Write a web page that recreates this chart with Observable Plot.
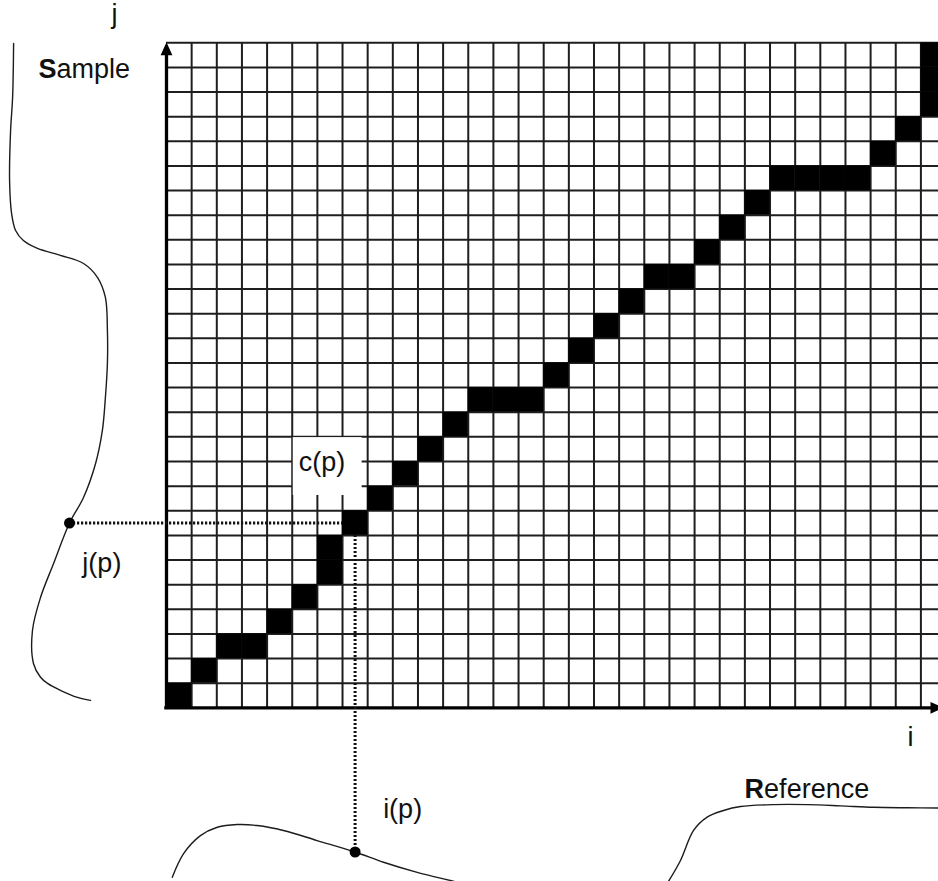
<!DOCTYPE html>
<html><head><meta charset="utf-8">
<script src="https://cdn.jsdelivr.net/npm/d3@7"></script>
<script src="https://cdn.jsdelivr.net/npm/@observablehq/plot@0.6"></script>
<style>html,body{margin:0;padding:0;overflow:hidden;background:#fff}</style>
</head><body>
<script>
// ---- grid (cells of the cost matrix) ----
const columns = 31;   // i = 0..30 (last column cut by the frame)
const rows = 27;      // j = 0..26

// ---- warping path cells ----
const pathI = [0,1,2,3,4,5,6,6,7,8,9,10,11,12,13,14,15,16,17,18,19,20,21,22,23,24,25,26,27,28,29,30,30,30];
const pathJ = [0,1,2,2,3,4,5,6,7,8,9,10,11,12,12,12,13,14,15,16,17,17,18,19,20,21,21,21,21,22,23,24,25,26];

// ---- Sample signal (drawn along j, value to the left of the grid) ----
const sampleJ     = [26.97,24.78,23.44,21.41,20.07,19.38,18.97,18.65,18.37,18.04,17.47,16.66,15.32,13.98,12.60,11.26,9.92,8.54,7.5,5.86,4.48,3.14,1.80,1.24,0.99,0.71,0.42,0.30];
const sampleValue = [-6.08,-6.12,-6.20,-6.24,-6.16,-6.00,-5.69,-5.13,-4.22,-3.30,-2.74,-2.43,-2.35,-2.35,-2.43,-2.55,-2.82,-3.30,-3.857,-4.49,-5.01,-5.33,-5.29,-5.01,-4.73,-4.22,-3.54,-3.02];

// ---- Reference signal (drawn along i, value below the grid) ----
const refI     = [0.23,0.68,1.35,2.02,2.81,3.61,4.65,5.99,7.5,8.63,9.97,11.29,11.77,  19.96,20.44,20.96,21.50,22.15,22.83,24.14,25.48,26.80,28.12,29.46,30.78];
const refValue = [-6.88,-5.92,-5.19,-4.85,-4.74,-4.78,-4.98,-5.39,-5.855,-6.27,-6.68,-7.01,-7.13, -7.05,-6.20,-4.98,-4.44,-4.17,-4.01,-3.93,-3.93,-3.98,-4.04,-4.06,-4.07];
const refPiece = [0,0,0,0,0,0,0,0,0,0,0,0,0, 1,1,1,1,1,1,1,1,1,1,1,1];

// ---- matched point p ----
const pointP = {i: 7, j: 7, sampleValue: -3.857, refValue: -5.855};

// ---- labels ----
const labelsMiddle = [
  {text: "j",    x: -2.07, y: 27.81},
  {text: "c(p)", x: 6.18,  y: 9.63},
  {text: "j(p)", x: -2.57, y: 5.52},
  {text: "i(p)", x: 9.39,  y: -4.47},
  {text: "i",    x: 29.59, y: -1.57}
];
const labelsBold = [
  {text: "S", x: -5.09, y: 25.59},
  {text: "R", x: 22.99, y: -3.67}
];
const labelsPlain = [
  {text: "ample",    x: -4.374, y: 25.59},
  {text: "eference", x: 23.765, y: -3.67}
];
// white box behind the c(p) label
const labelBox = [{x1: 5.04, x2: 7.78, y1: 8.62, y2: 10.97}];

const cells = pathI.map((i, k) => ({i, j: pathJ[k]}));
const sample = sampleJ.map((j, k) => ({j, v: sampleValue[k]}));
const reference = refI.map((i, k) => ({i, v: refValue[k], piece: refPiece[k]}));

const upArrow = {draw(ctx) { ctx.moveTo(0, 0); ctx.lineTo(-5.9, 13); ctx.lineTo(5.9, 13); ctx.closePath(); }};
const rightArrow = {draw(ctx) { ctx.moveTo(0, 0); ctx.lineTo(-13, -5.9); ctx.lineTo(-13, 5.9); ctx.closePath(); }};

const ink = "#1c1c1c";
const font = 27;
const dotted = {stroke: "#111", strokeWidth: 3, strokeDasharray: "2.2,1.8"};

const chart = Plot.plot({
  width: 938,
  height: 881,
  marginLeft: 166,
  marginRight: 0,
  marginTop: 42.3,
  marginBottom: 173.7,
  x: {domain: [0, 30.7], axis: null},
  y: {domain: [0, rows], axis: null},
  style: {fontFamily: "'Liberation Sans', Arial, sans-serif", background: "white", overflow: "hidden"},
  marks: [
    // grid
    Plot.ruleX(d3.range(1, columns), {y1: 0, y2: rows, stroke: "#1e1e1e", strokeWidth: 2}),
    Plot.ruleY(d3.range(1, rows + 1), {x1: 0, x2: columns, stroke: "#1e1e1e", strokeWidth: 2}),
    Plot.rect(labelBox, {x1: "x1", x2: "x2", y1: "y1", y2: "y2", fill: "white"}),
    // warping path
    Plot.rect(cells, {x1: d => d.i, x2: d => d.i + 1, y1: d => d.j, y2: d => d.j + 1, fill: "black"}),
    // axes with arrows
    Plot.ruleX([0], {y1: -0.07, y2: 26.6, stroke: "black", strokeWidth: 3.3}),
    Plot.ruleY([0], {x1: -0.07, x2: 30.5, stroke: "black", strokeWidth: 3.3}),
    Plot.dot([{x: 0, y: 27.02}], {x: "x", y: "y", symbol: upArrow, fill: "black", stroke: "none"}),
    Plot.dot([{x: 30.9, y: 0}], {x: "x", y: "y", symbol: rightArrow, fill: "black", stroke: "none"}),
    // signals
    Plot.line(sample, {x: "v", y: "j", curve: "catmull-rom", stroke: ink, strokeWidth: 1.4}),
    Plot.line(reference, {x: "i", y: "v", z: "piece", curve: "catmull-rom", stroke: ink, strokeWidth: 1.4}),
    // projections of p
    Plot.ruleY([pointP], {y: d => d.j + 0.5, x1: d => d.sampleValue, x2: d => d.i, ...dotted}),
    Plot.ruleX([pointP], {x: d => d.i + 0.5, y1: d => d.j, y2: d => d.refValue, ...dotted}),
    Plot.dot([pointP], {x: "sampleValue", y: d => d.j + 0.5, r: 5.5, fill: "black", stroke: "none"}),
    Plot.dot([pointP], {x: d => d.i + 0.5, y: "refValue", r: 5.5, fill: "black", stroke: "none"}),
    // labels
    Plot.text(labelsMiddle, {x: "x", y: "y", text: "text", textAnchor: "middle", lineAnchor: "bottom", fontSize: font, fill: "#111"}),
    Plot.text(labelsBold, {x: "x", y: "y", text: "text", textAnchor: "start", lineAnchor: "bottom", fontSize: font, fontWeight: "bold", fill: "#111"}),
    Plot.text(labelsPlain, {x: "x", y: "y", text: "text", textAnchor: "start", lineAnchor: "bottom", fontSize: font, fill: "#111"})
  ]
});
document.body.appendChild(chart);
</script>
</body></html>
